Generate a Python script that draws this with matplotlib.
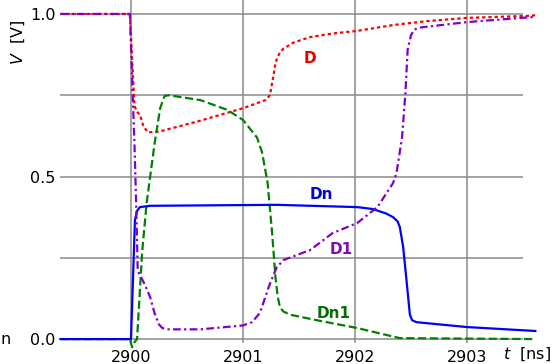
import matplotlib
matplotlib.use('Agg')
import matplotlib.pyplot as plt

# Waveforms (t in ns, V in volts)
d_t = [2899.37, 2899.99, 2900.01, 2900.03, 2900.05, 2900.08, 2900.11, 2900.15, 2900.25,
       2900.6, 2901.0, 2901.2, 2901.24, 2901.27, 2901.29, 2901.31, 2901.33, 2901.36,
       2901.45, 2901.6, 2901.8, 2902.02, 2902.34, 2902.64, 2903.0, 2903.53, 2903.61]
d_v = [1.0, 1.0, 0.86, 0.72, 0.70, 0.69, 0.655, 0.636, 0.638,
       0.67, 0.71, 0.735, 0.75, 0.806, 0.85, 0.868, 0.882, 0.893,
       0.912, 0.929, 0.94, 0.948, 0.966, 0.978, 0.988, 0.994, 0.996]

d1_t = [2899.37, 2899.99, 2900.01, 2900.03, 2900.045, 2900.06, 2900.12, 2900.17, 2900.21,
        2900.25, 2900.28, 2900.32, 2900.62, 2901.0, 2901.08, 2901.15, 2901.24, 2901.30,
        2901.36, 2901.60, 2901.80, 2902.02, 2902.20, 2902.34, 2902.37, 2902.42, 2902.45,
        2902.47, 2902.50, 2902.53, 2902.57, 2903.0, 2903.60]
d1_v = [1.0, 1.0, 0.8, 0.61, 0.43, 0.21, 0.17, 0.13, 0.08,
        0.045, 0.034, 0.03, 0.03, 0.042, 0.052, 0.08, 0.17, 0.22,
        0.243, 0.274, 0.326, 0.357, 0.406, 0.48, 0.51, 0.62, 0.757,
        0.89, 0.935, 0.952, 0.958, 0.975, 0.991]

dn_t = [2899.37, 2899.995, 2900.0, 2900.035, 2900.055, 2900.08, 2900.17, 2901.3,
        2902.02, 2902.16, 2902.28, 2902.34, 2902.38, 2902.40, 2902.43, 2902.46,
        2902.49, 2902.51, 2902.55, 2903.0, 2903.61]
dn_v = [0.0, 0.0, 0.0, 0.366, 0.395, 0.406, 0.41, 0.413,
        0.406, 0.40, 0.386, 0.375, 0.362, 0.345, 0.283, 0.18,
        0.075, 0.058, 0.052, 0.037, 0.025]

dn1_t = [2899.37, 2899.99, 2900.01, 2900.03, 2900.054, 2900.10, 2900.14, 2900.21,
         2900.26, 2900.30, 2900.34, 2900.62, 2900.86, 2901.0, 2901.125, 2901.17, 2901.22,
         2901.26, 2901.29, 2901.31, 2901.33, 2901.36, 2901.42, 2901.66, 2902.02, 2902.40,
         2903.61]
dn1_v = [0.0, 0.0, -0.025, -0.01, 0.0, 0.27, 0.42, 0.6,
         0.71, 0.748, 0.75, 0.735, 0.705, 0.674, 0.62, 0.575, 0.48,
         0.326, 0.19, 0.13, 0.098, 0.085, 0.075, 0.058, 0.034, 0.003,
         0.0]

x_ticks = [2900, 2901, 2902, 2903]
y_ticks = [0.0, 0.5, 1.0]
y_minor = [0.25, 0.75]

W, H = 552, 364
fig = plt.figure(figsize=(W / 100, H / 100), dpi=100)
ax = fig.add_axes([60 / W, 21 / H, (523 - 60) / W, 343 / H])
ax.set_xlim(2899.366, 2903.5)
ax.set_ylim(-0.012, 1.043)

for s in ax.spines.values():
    s.set_visible(False)

ax.set_xticks(x_ticks)
ax.set_yticks(y_ticks)
ax.set_yticks(y_minor, minor=True)
ax.set_yticklabels(['0.0', '0.5', '1.0'])
ax.tick_params(which='both', length=0, labelsize=11.5, pad=3)
ax.tick_params(axis='x', pad=5)
ax.grid(True, which='both', color='#8a8a8a', linewidth=1.1)
ax.set_axisbelow(True)

lw = 1.6
ax.plot(d_t, d_v, color='#ff0000', lw=lw, dashes=(1.5, 1.3), clip_on=False)
ax.plot(dn1_t, dn1_v, color='#008000', lw=lw, dashes=(3.7, 1.6), clip_on=False)
ax.plot(dn_t, dn_v, color='#0000ff', lw=lw, clip_on=False)
ax.plot(d1_t, d1_v, color='#8000c8', lw=lw, dashes=(3.5, 1.5, 1.0, 1.5), clip_on=False)

# curve labels
ax.text(2901.60, 0.863, 'D', color='#e00000', fontsize=11, fontweight='bold', ha='center', va='center')
ax.text(2901.70, 0.446, 'Dn', color='#0000e0', fontsize=11, fontweight='bold', ha='center', va='center')
ax.text(2901.88, 0.277, 'D1', color='#7a10b0', fontsize=11, fontweight='bold', ha='center', va='center')
ax.text(2901.81, 0.080, 'Dn1', color='#007000', fontsize=11, fontweight='bold', ha='center', va='center')

# axis labels placed like the original
fig.text(527 / W, 1 - 354 / H, '$t$  [ns]', fontsize=11.5, ha='center', va='center')
fig.text(18 / W, 1 - 42 / H, '$V$  [V]', fontsize=11.5, ha='center', va='center', rotation=90)
fig.text(1 / W, 1 - 340 / H, 'n', fontsize=11.5, ha='left', va='center')

fig.savefig('out.png', dpi=100, facecolor='white')
